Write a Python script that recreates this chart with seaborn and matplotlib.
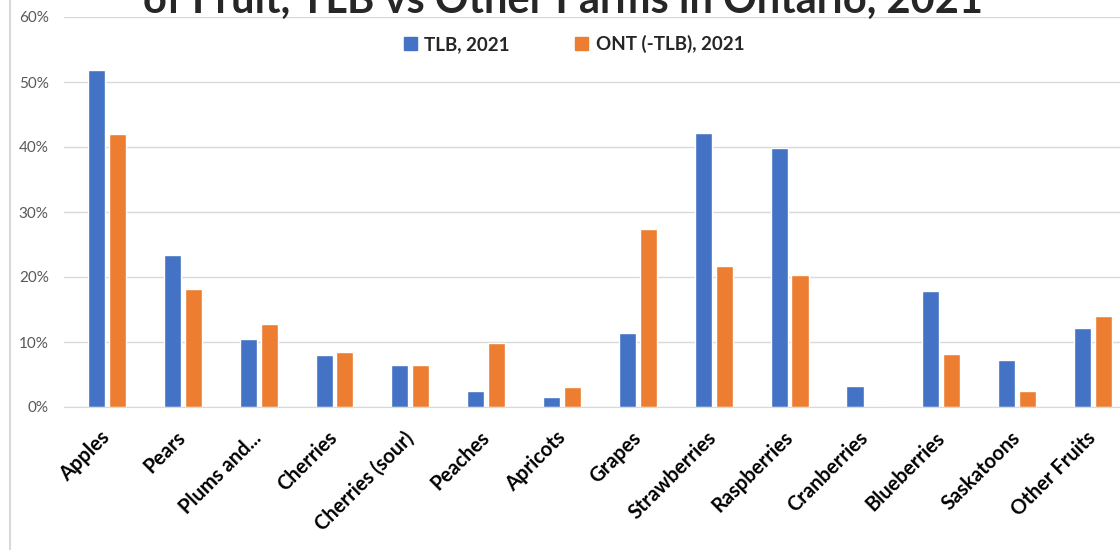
import pandas as pd
import seaborn as sns
import matplotlib.pyplot as plt
from matplotlib.lines import Line2D
from matplotlib.ticker import PercentFormatter
from matplotlib.transforms import ScaledTranslation

fruits = ['Apples', 'Pears', 'Plums and...', 'Cherries', 'Cherries (sour)', 'Peaches',
          'Apricots', 'Grapes', 'Strawberries', 'Raspberries', 'Cranberries',
          'Blueberries', 'Saskatoons', 'Other Fruits']
tlb = [51.8, 23.4, 10.4, 8.0, 6.5, 2.4, 1.5, 11.4, 42.2, 39.8, 3.2, 17.8, 7.2, 12.2]
ont = [42.0, 18.2, 12.7, 8.5, 6.5, 9.8, 3.1, 27.4, 21.7, 20.3, 0.0, 8.1, 2.4, 14.0]
series = ['TLB, 2021', 'ONT (-TLB), 2021']
colors = ['#4472C4', '#ED7D31']

df = pd.DataFrame({'Fruit': fruits * 2,
                   'Series': [series[0]] * len(fruits) + [series[1]] * len(fruits),
                   'Share': tlb + ont})

sns.set_style('white')
plt.rcParams['font.family'] = ['Lato', 'DejaVu Sans']

W, H = 1120, 550
fig = plt.figure(figsize=(W / 100, H / 100), dpi=100)
ax = fig.add_axes([64 / W, (H - 407) / H, (W - 64) / W, 390 / H])

sns.barplot(data=df, x='Fruit', y='Share', hue='Series', palette=colors,
            saturation=1, width=0.55, gap=0.18, ax=ax, legend=False)

ax.set_ylim(0, 60)
ax.set_xlim(-0.566, 13.356)
ax.set_yticks(range(0, 61, 10))
ax.yaxis.set_major_formatter(PercentFormatter(decimals=0))
ax.grid(axis='y', color='#D9D9D9', linewidth=1)
ax.set_axisbelow(True)
for s in ['top', 'right', 'left']:
    ax.spines[s].set_visible(False)
ax.spines['bottom'].set_color('#D9D9D9')
ax.set_xlabel('')
ax.set_ylabel('')
ax.tick_params(axis='y', colors='#595959', labelsize=11, length=0, pad=11)
ax.tick_params(axis='x', length=0, pad=20)
shift = ScaledTranslation(0, 0, fig.dpi_scale_trans)
for lab in ax.get_xticklabels():
    lab.set_transform(lab.get_transform() + shift)
plt.setp(ax.get_xticklabels(), rotation=45, ha='right', va='center',
         rotation_mode='anchor', fontsize=14.5, fontweight='bold', color='black')

handles = [plt.Rectangle((0, 0), 1, 1, color=c) for c in colors]
fig.legend(handles, series, loc='center', bbox_to_anchor=(574 / W, 1 - 44 / H), ncol=2,
           frameon=False, handlelength=0.7, handleheight=0.7, handletextpad=0.4,
           columnspacing=3.5, prop={'weight': 'bold', 'size': 13.5})

fig.text(563 / W, 1 - 13 / H, 'of Fruit, TLB vs Other Farms in Ontario, 2021',
         ha='center', va='baseline', fontsize=30, fontweight='bold')

fig.add_artist(Line2D([10 / W, 10 / W], [0, 1], color='#D9D9D9', linewidth=1.5,
                      transform=fig.transFigure))

fig.savefig('out.png', dpi=100)
